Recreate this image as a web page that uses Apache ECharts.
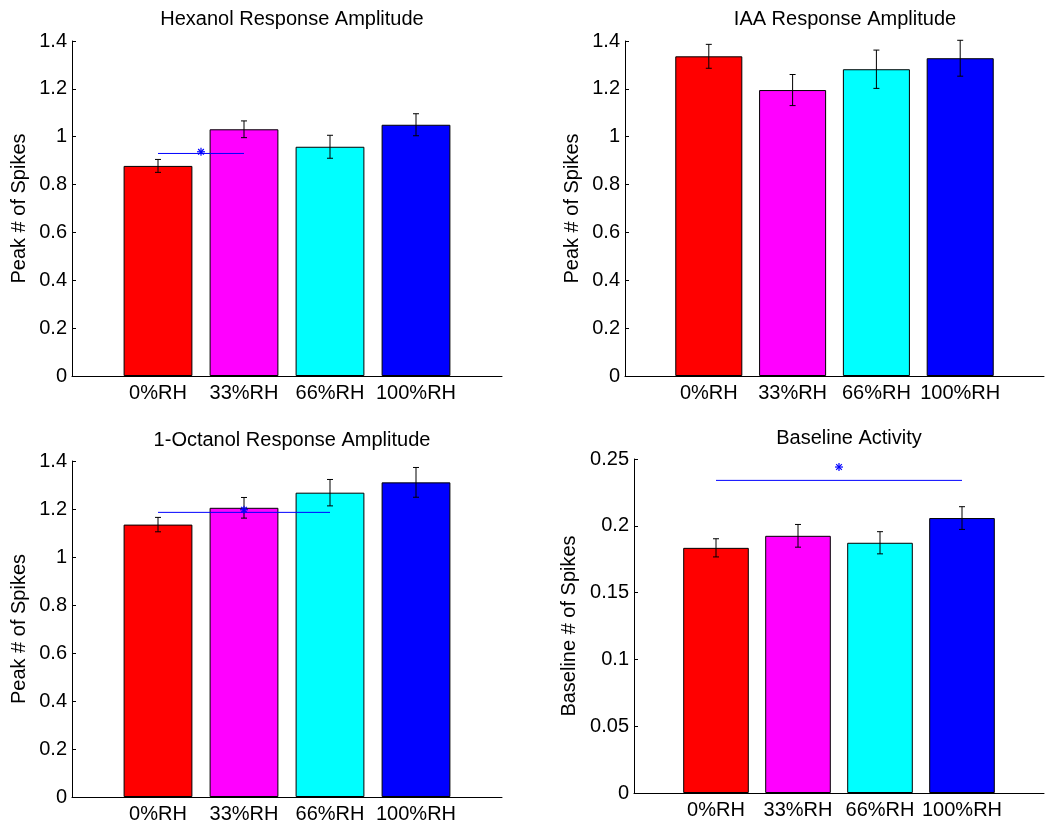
<!DOCTYPE html>
<html>
<head>
<meta charset="utf-8">
<script src="https://cdn.jsdelivr.net/npm/echarts@6/dist/echarts.min.js"></script>
<style>
  html, body { margin: 0; padding: 0; background: #ffffff; }
  #chart { width: 1047px; height: 824px; }
</style>
</head>
<body>
<div id="chart"></div>
<script>
// Humidity conditions and their bar colours
const categories = ['0%RH', '33%RH', '66%RH', '100%RH'];
const barColors = ['#ff0000', '#ff00ff', '#00ffff', '#0000ff'];

// Mean responses and standard errors per condition
const hexanolMean = [0.878, 1.031, 0.958, 1.050];
const hexanolErr = [0.027, 0.035, 0.048, 0.046];
const iaaMean = [1.336, 1.195, 1.282, 1.328];
const iaaErr = [0.050, 0.065, 0.080, 0.075];
const octanolMean = [1.135, 1.205, 1.268, 1.311];
const octanolErr = [0.030, 0.043, 0.055, 0.062];
const baselineMean = [0.1835, 0.1925, 0.1873, 0.2058];
const baselineErr = [0.0068, 0.0085, 0.0083, 0.0085];

// Significance brackets: [from condition, to condition, line level, star level]
const hexanolSig = [1, 2, 0.930, 0.937];
const octanolSig = [1, 3, 1.186, 1.197];
const baselineSig = [1, 4, 0.234, 0.244];

// Y axis ranges
const ampTicks = { max: 1.4, step: 0.2 };
const baseTicks = { max: 0.25, step: 0.05 };

const FONT = 'Liberation Sans, Arial, Helvetica, sans-serif';

const panels = [
  { title: 'Hexanol Response Amplitude', yName: 'Peak # of Spikes', mean: hexanolMean, err: hexanolErr, sig: hexanolSig, ticks: ampTicks,
    grid: { left: 72, top: 41, width: 430, height: 335 }, nameGap: 43, titleTop: 4 },
  { title: 'IAA Response Amplitude', yName: 'Peak # of Spikes', mean: iaaMean, err: iaaErr, sig: null, ticks: ampTicks,
    grid: { left: 625, top: 41, width: 430, height: 335 }, nameGap: 43, titleTop: 4 },
  { title: '1-Octanol Response Amplitude', yName: 'Peak # of Spikes', mean: octanolMean, err: octanolErr, sig: octanolSig, ticks: ampTicks,
    grid: { left: 72, top: 461, width: 430, height: 336 }, nameGap: 43, titleTop: 425 },
  { title: 'Baseline Activity', yName: 'Baseline # of Spikes', mean: baselineMean, err: baselineErr, sig: baselineSig, ticks: baseTicks,
    grid: { left: 634, top: 459, width: 420, height: 334 }, nameGap: 55, titleTop: 423 }
];

const grids = [], xAxes = [], yAxes = [], titles = [], series = [];

function errorBarItem(params, api) {
  const x = api.value(0);
  const lo = api.coord([x, api.value(1)]);
  const hi = api.coord([x, api.value(2)]);
  const cap = 3;
  const style = { stroke: '#000000', lineWidth: 1 };
  return {
    type: 'group',
    children: [
      { type: 'line', shape: { x1: lo[0], y1: lo[1], x2: hi[0], y2: hi[1] }, style },
      { type: 'line', shape: { x1: lo[0] - cap, y1: lo[1], x2: lo[0] + cap, y2: lo[1] }, style },
      { type: 'line', shape: { x1: hi[0] - cap, y1: hi[1], x2: hi[0] + cap, y2: hi[1] }, style }
    ]
  };
}

function starItem(params, api) {
  const c = api.coord([api.value(0), api.value(1)]);
  const r = 4;
  const style = { stroke: '#0000ff', lineWidth: 1.2 };
  const children = [];
  for (let k = 0; k < 4; k++) {
    const a = k * Math.PI / 4;
    const dx = Math.cos(a) * r, dy = Math.sin(a) * r;
    children.push({ type: 'line', shape: { x1: c[0] - dx, y1: c[1] - dy, x2: c[0] + dx, y2: c[1] + dy }, style });
  }
  return { type: 'group', children };
}

panels.forEach((p, i) => {
  grids.push(Object.assign({ containLabel: false }, p.grid));
  titles.push({
    text: p.title,
    left: p.grid.left + p.grid.width / 2,
    top: p.titleTop,
    textAlign: 'center',
    textStyle: { fontFamily: FONT, fontSize: 20, fontWeight: 'normal', color: '#000000' }
  });
  xAxes.push({
    type: 'value', gridIndex: i, min: 0, max: 5, interval: 1,
    axisLine: { show: true, lineStyle: { color: '#000000', width: 1 } },
    axisTick: { show: false },
    splitLine: { show: false },
    axisLabel: {
      margin: 7, fontFamily: FONT, fontSize: 20, color: '#000000',
      formatter: v => categories[v - 1] || ''
    }
  });
  yAxes.push({
    type: 'value', gridIndex: i, min: 0, max: p.ticks.max, interval: p.ticks.step,
    name: p.yName, nameLocation: 'middle', nameGap: p.nameGap, nameRotate: 90,
    nameTextStyle: { fontFamily: FONT, fontSize: 20, color: '#000000' },
    axisLine: { show: true, lineStyle: { color: '#000000', width: 1 } },
    axisTick: { show: true, inside: true, length: 4, lineStyle: { color: '#000000' } },
    splitLine: { show: false },
    axisLabel: { margin: 5, fontFamily: FONT, fontSize: 20, color: '#000000' }
  });

  series.push({
    type: 'bar', xAxisIndex: i, yAxisIndex: i, barWidth: '80%',
    data: p.mean.map((v, k) => ({
      value: [k + 1, v],
      itemStyle: { color: barColors[k], borderColor: '#000000', borderWidth: 1 }
    })),
    z: 2
  });
  series.push({
    type: 'custom', xAxisIndex: i, yAxisIndex: i, renderItem: errorBarItem,
    data: p.mean.map((v, k) => [k + 1, v - p.err[k], v + p.err[k]]),
    z: 3
  });
  if (p.sig) {
    const [from, to, level, starLevel] = p.sig;
    series.push({
      type: 'line', xAxisIndex: i, yAxisIndex: i, symbol: 'none',
      lineStyle: { color: '#0000ff', width: 1 },
      data: [[from, level], [to, level]],
      z: 4
    });
    series.push({
      type: 'custom', xAxisIndex: i, yAxisIndex: i, renderItem: starItem,
      data: [[(from + to) / 2, starLevel]],
      z: 5
    });
  }
});

const chart = echarts.init(document.getElementById('chart'), null, { renderer: 'canvas' });
chart.setOption({
  animation: false,
  backgroundColor: '#ffffff',
  title: titles,
  grid: grids,
  xAxis: xAxes,
  yAxis: yAxes,
  series
});
</script>
</body>
</html>
